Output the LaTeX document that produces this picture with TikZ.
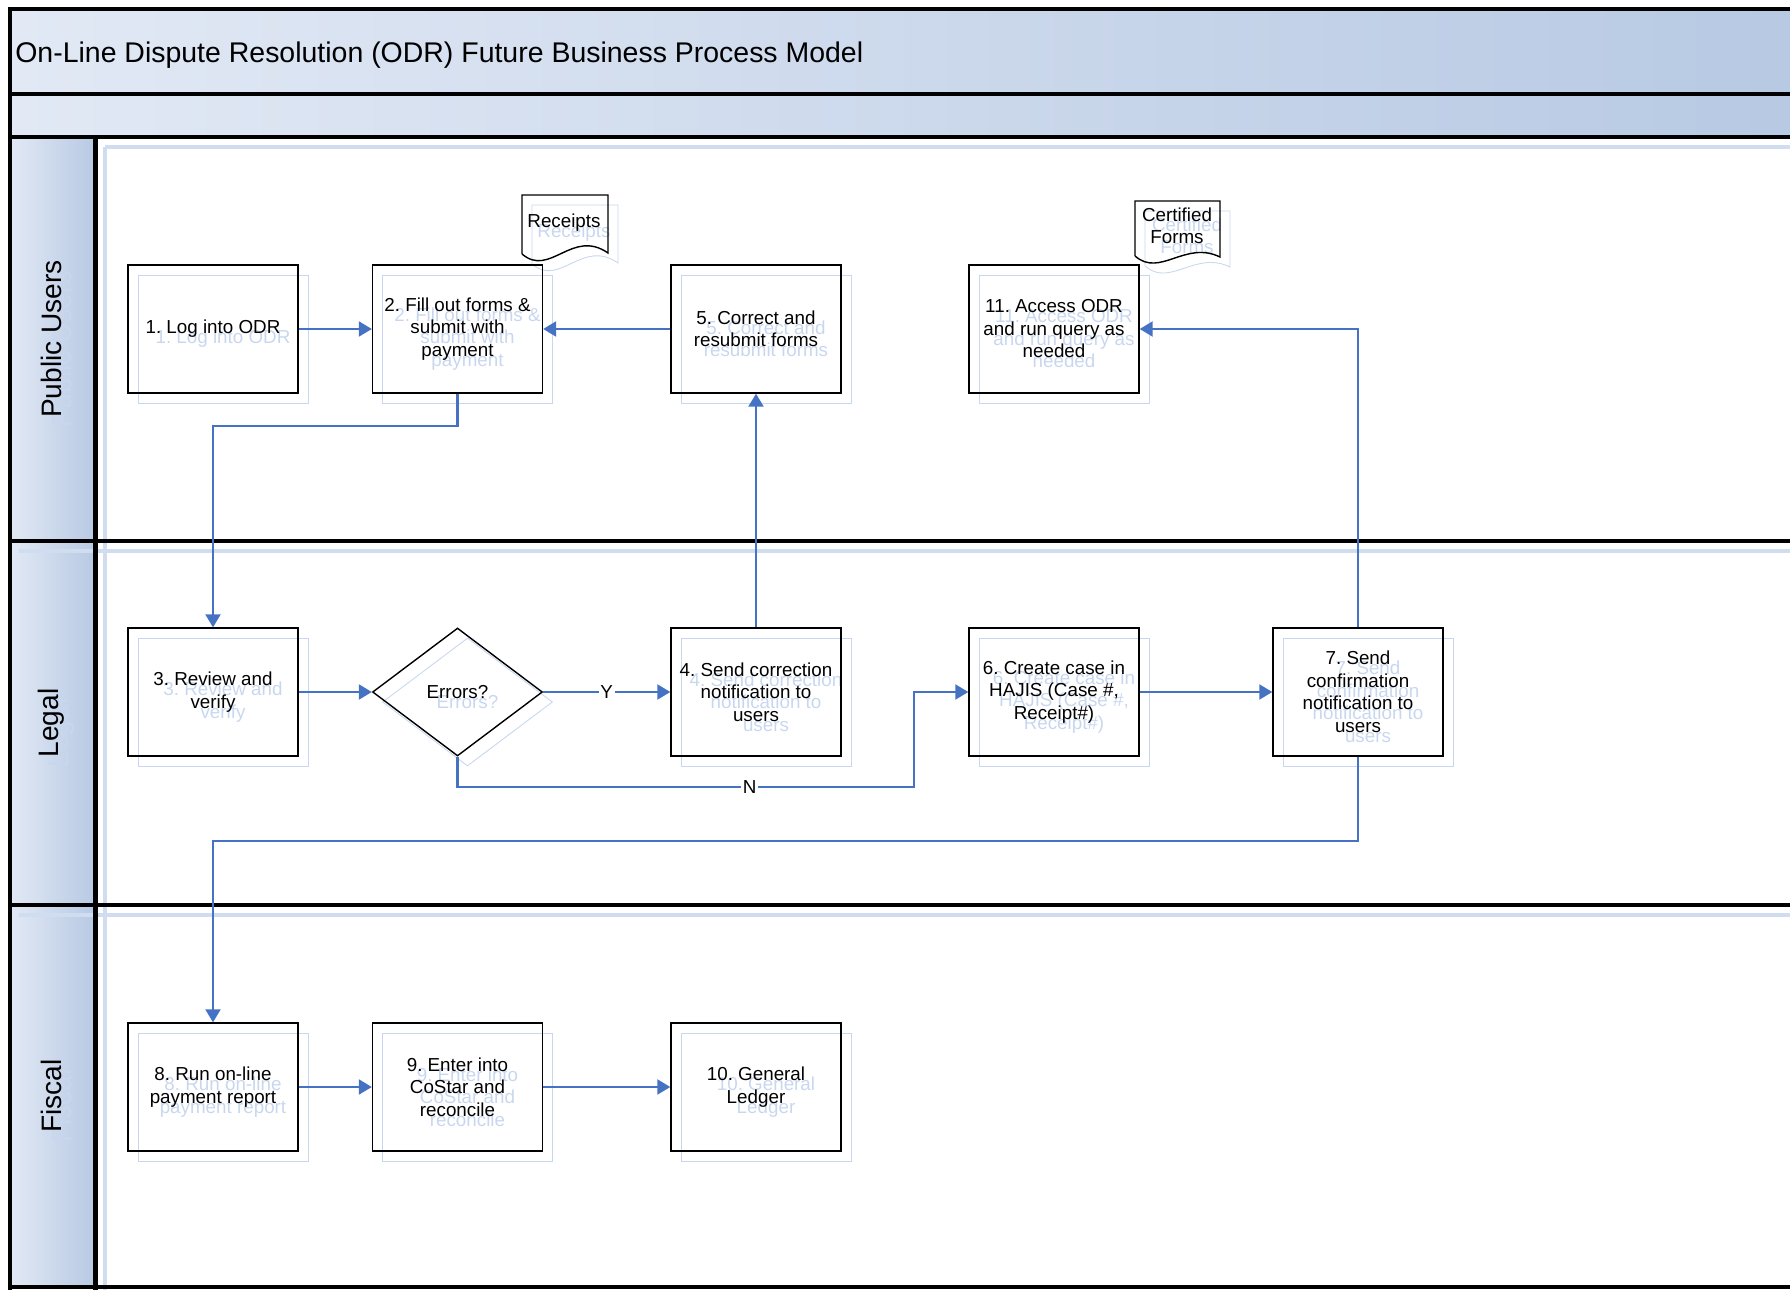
\documentclass[tikz,border=0pt]{standalone}
\usepackage{fontspec}
\setmainfont{Liberation Sans}
\usetikzlibrary{shapes.geometric,arrows.meta}
\definecolor{flowblue}{RGB}{70,114,196}
\definecolor{ghostblue}{RGB}{200,215,239}
\definecolor{ghostlane}{RGB}{208,221,241}
\definecolor{bandlight}{RGB}{226,233,245}
\definecolor{banddark}{RGB}{183,201,227}
\frenchspacing

\begin{document}
\begin{tikzpicture}[x=0.02cm, y=-0.02cm]
			\tikzstyle{block} = [draw, line width=0.8pt, minimum width=3.4cm, minimum height=2.56cm, text width=3.15cm, inner sep=0.1cm, align=flush center, font=\fontsize{10.7}{12.8}\selectfont]
			\tikzstyle{decision} = [diamond, draw, line width=0.8pt, aspect=1.33, minimum width=3.4cm, minimum height=2.56cm, inner sep=0pt, font=\fontsize{10.7}{12.8}\selectfont]
			\tikzstyle{ghost} = [draw=ghostblue, text=ghostblue, line width=0.5pt, xshift=0.2cm, yshift=-0.2cm]
			\tikzstyle{doctext} = [text width=1.6cm, align=flush center, inner sep=0pt, font=\fontsize{10.7}{12.8}\selectfont]
			\tikzstyle{lanelabel} = [rotate=90, inner sep=0pt, font=\fontsize{16}{19}\selectfont]
			\tikzstyle{lanehead} = [left color=bandlight, right color=banddark]
			\tikzstyle{flow} = [draw=flowblue, line width=1.2pt, -{Triangle[length=0.26cm, width=0.3cm]}]
			\tikzstyle{lbl} = [fill=white, inner sep=1pt, font=\fontsize{10.7}{12.8}\selectfont]
			\useasboundingbox (0,0) rectangle (1790,1290);
			\clip (0,0) rectangle (1790,1290);
			% pool and lanes
			\fill[lanehead] (10,9) rectangle (1800,94);
			\fill[lanehead] (10,94) rectangle (1800,137);
			\fill[lanehead] (10,137) rectangle (95,541);
			\fill[lanehead] (10,541) rectangle (95,905);
			\fill[lanehead] (10,905) rectangle (95,1287);
			\draw[ghostlane, line width=0.09cm] (105,147) -- (1800,147) (19,551) -- (1800,551) (19,915) -- (1800,915) (105,147) -- (105,1300);
			\draw[line width=0.09cm] (10,1300) -- (10,9) -- (1800,9) (10,94) -- (1800,94) (10,137) -- (1800,137) (10,541) -- (1800,541) (10,905) -- (1800,905) (10,1287) -- (1800,1287) (95.5,137) -- (95.5,1300);
			\node[anchor=west, inner sep=0pt, font=\fontsize{16.2}{19}\selectfont] (title) at (15,55) {On-Line Dispute Resolution (ODR) Future Business Process Model};
			\node[lanelabel, text=ghostblue] (pubg) at (61,349) {Public Users};
			\node[lanelabel, text=ghostblue] (legg) at (61,733) {Legal};
			\node[lanelabel, text=ghostblue] (fisg) at (61,1106) {Fiscal};
			\node[lanelabel] (pub) at (51,339) {Public Users};
			\node[lanelabel] (leg) at (51,723) {Legal};
			\node[lanelabel] (fis) at (51,1096) {Fiscal};
			% ghost copies
			\foreach \n/\x/\y/\t in {g1/213/329/{1. Log into ODR}, g2/457.5/329/{2. Fill out forms \& submit with payment}, g5/756/329/{5. Correct and resubmit forms}, g11/1054/329/{11. Access ODR and run query as needed}, g3/213/692/{3. Review and verify}, g4/756/692/{4. Send correction notification to users}, g6/1054/692/{6. Create case in HAJIS (Case \#, Receipt\#)}, g7/1358/692/{7. Send confirmation notification to users}, g8/213/1087/{8. Run on-line payment report}, g9/457.5/1087/{9. Enter into CoStar and reconcile}, g10/756/1087/{10. General Ledger}}
				\node[block, ghost] (\n) at (\x,\y) {\t};
			\node[decision, ghost] (gerr) at (457.5,692) {Errors?};
			\draw[ghostblue, line width=0.5pt, shift={(10,10)}] (522,254) -- (522,195) -- (608,195) -- (608,253) .. controls (572,228) and (550,278) .. (522,254);
			\draw[ghostblue, line width=0.5pt, shift={(10,10)}] (1135,256) -- (1135,201) -- (1220,201) -- (1220,257) .. controls (1185,240) and (1160,278) .. (1135,256);
			\node[doctext, text=ghostblue] (grcpt) at (574,233) {Receipts};
			\node[doctext, text=ghostblue] (gcert) at (1187,236) {Certified Forms};
			% process steps
			\node[block] (log) at (213,329) {1. Log into ODR};
			\node[block] (fill) at (457.5,329) {2. Fill out forms \& submit with payment};
			\node[block] (fix) at (756,329) {5. Correct and resubmit forms};
			\node[block] (acc) at (1054,329) {11. Access ODR and run query as needed};
			\node[block] (rev) at (213,692) {3. Review and verify};
			\node[decision] (err) at (457.5,692) {Errors?};
			\node[block] (corr) at (756,692) {4. Send correction notification to users};
			\node[block] (case) at (1054,692) {6. Create case in HAJIS (Case \#, Receipt\#)};
			\node[block] (conf) at (1358,692) {7. Send confirmation notification to users};
			\node[block] (run) at (213,1087) {8. Run on-line payment report};
			\node[block] (costar) at (457.5,1087) {9. Enter into CoStar and reconcile};
			\node[block] (ledger) at (756,1087) {10. General Ledger};
			% documents
			\draw[line width=0.8pt] (522,254) -- (522,195) -- (608,195) -- (608,253) .. controls (572,228) and (550,278) .. (522,254);
			\draw[line width=0.8pt] (1135,256) -- (1135,201) -- (1220,201) -- (1220,257) .. controls (1185,240) and (1160,278) .. (1135,256);
			\node[doctext] (rcpt) at (564,223) {Receipts};
			\node[doctext] (cert) at (1177,226) {Certified Forms};
			% connectors
			\coordinate (nbend) at (914,787);
			\draw[flow] (log) -- (fill);
			\draw[flow] (fix) -- (fill);
			\draw[flow] (fill.south) -- ++(0,32) -| (rev.north);
			\draw[flow] (rev) -- (err);
			\draw[flow] (err) -- node[lbl] {Y} (corr);
			\draw[flow] (corr) -- (fix);
			\draw[flow] (err.south) |- (nbend) node[lbl, pos=0.82] {N} |- (case.west);
			\draw[flow] (case) -- (conf);
			\draw[flow] (conf.north) |- (acc.east);
			\draw[flow] (conf.south) -- ++(0,84) -| (run.north);
			\draw[flow] (run) -- (costar);
			\draw[flow] (costar) -- (ledger);
\end{tikzpicture}
\end{document}
